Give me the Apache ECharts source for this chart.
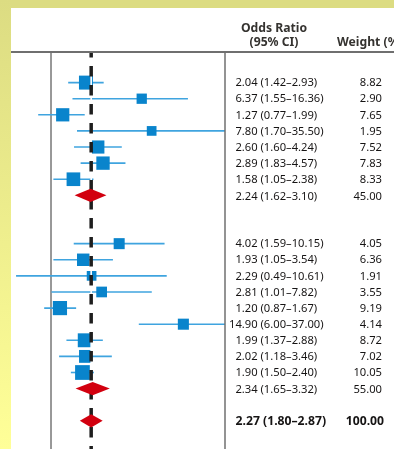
<!DOCTYPE html>
<html><head><meta charset="utf-8">
<script src="https://cdn.jsdelivr.net/npm/echarts@6/dist/echarts.min.js"></script>
<style>html,body{margin:0;padding:0;background:#fff}#c{width:394px;height:449px}</style>
</head><body><div id="c"></div>
<script>
// ---- data ----
const group1OR = [2.04, 6.37, 1.27, 7.80, 2.60, 2.89, 1.58];
const group1Lo = [1.42, 1.55, 0.77, 1.70, 1.60, 1.83, 1.05];
const group1Hi = [2.93, 16.36, 1.99, 35.50, 4.24, 4.57, 2.38];
const group1W  = [8.82, 2.90, 7.65, 1.95, 7.52, 7.83, 8.33];
const subtotal1 = {or: 2.24, lo: 1.62, hi: 3.10, w: 45.00};

const group2OR = [4.02, 1.93, 2.29, 2.81, 1.20, 14.90, 1.99, 2.02, 1.90];
const group2Lo = [1.59, 1.05, 0.49, 1.01, 0.87, 6.00, 1.37, 1.18, 1.50];
const group2Hi = [10.15, 3.54, 10.61, 7.82, 1.67, 37.00, 2.88, 3.46, 2.40];
const group2W  = [4.05, 6.36, 1.91, 3.55, 9.19, 4.14, 8.72, 7.02, 10.05];
const subtotal2 = {or: 2.34, lo: 1.65, hi: 3.32, w: 55.00};

const overall = {or: 2.27, lo: 1.80, hi: 2.87, w: 100.00};

const headerOR = ['Odds Ratio', '(95% CI)'];
const headerW = 'Weight (%)';

// ---- build rows (row order = vertical position) ----
const rows = [];
function addGroup(or, lo, hi, w) {
  or.forEach((v, i) => rows.push({type: 'study', or: v, lo: lo[i], hi: hi[i], w: w[i]}));
}
addGroup(group1OR, group1Lo, group1Hi, group1W);
rows.push(Object.assign({type: 'sub'}, subtotal1));
rows.push(null, null);
addGroup(group2OR, group2Lo, group2Hi, group2W);
rows.push(Object.assign({type: 'sub'}, subtotal2));
rows.push(null);
rows.push(Object.assign({type: 'overall'}, overall));

const squareData = [], ciData = [], diamondData = [], textRows = [], textData = [];
rows.forEach((r, i) => {
  if (!r) return;
  if (r.type === 'study') {
    squareData.push([r.or, i, r.w]);
    ciData.push([r.lo, i, r.hi]);
  } else {
    diamondData.push([r.or, i, r.lo, r.hi]);
  }
  textRows.push(r);
  textData.push([r.or, i]);
});

const FONT = '"Noto Sans", "Liberation Sans", sans-serif';
const TXT = '#161414';
const fmt = v => v.toFixed(2);

function vLine(params, api, style) {
  const cs = params.coordSys;
  const x = api.coord([api.value(0), 1])[0];
  return {type: 'line', shape: {x1: x, y1: cs.y, x2: x, y2: cs.y + cs.height}, style: style};
}

const chart = echarts.init(document.getElementById('c'), null, {renderer: 'canvas'});
chart.setOption({
  animation: false,
  backgroundColor: '#ffffff',
  grid: {left: 11, right: 169, top: 52, bottom: 0, containLabel: false},
  xAxis: {type: 'log', min: 0.442, max: 34.85, show: false},
  yAxis: {type: 'value', inverse: true, min: -1.9, max: 22.75, show: false},
  graphic: [
    {type: 'rect', shape: {x: 0, y: 0, width: 394, height: 8}, style: {fill: '#dcdc82'}, z: 100},
    {type: 'rect', shape: {x: 0, y: 0, width: 11, height: 449},
      style: {fill: new echarts.graphic.LinearGradient(0, 0, 0, 1, [
        {offset: 0, color: '#dcdc82'}, {offset: 1, color: '#ffff98'}])}, z: 100},
    {type: 'line', shape: {x1: 11, y1: 52, x2: 394, y2: 52}, style: {stroke: '#6f6f6f', lineWidth: 2}, z: 50},
    {type: 'line', shape: {x1: 225, y1: 52, x2: 225, y2: 449}, style: {stroke: '#6f6f6f', lineWidth: 1.5}, z: 50},
    {type: 'text', style: {text: headerOR[0], x: 274, y: 29, align: 'center', verticalAlign: 'middle',
      font: 'bold 12.2px ' + FONT, fill: '#353330'}},
    {type: 'text', style: {text: headerOR[1], x: 274, y: 42.5, align: 'center', verticalAlign: 'middle',
      font: 'bold 12.2px ' + FONT, fill: '#353330'}},
    {type: 'text', style: {text: headerW, x: 337, y: 42.5, align: 'left', verticalAlign: 'middle',
      font: 'bold 12.2px ' + FONT, fill: '#353330'}}
  ],
  series: [
    { // reference line at OR = 1
      type: 'custom', z: 1, silent: true, clip: false,
      data: [[1]],
      renderItem: (params, api) => vLine(params, api, {stroke: '#777777', lineWidth: 1.5})
    },
    { // confidence intervals
      type: 'custom', z: 2, silent: true, clip: false,
      data: ciData,
      renderItem: (params, api) => {
        const cs = params.coordSys;
        const p1 = api.coord([api.value(0), api.value(1)]);
        const p2 = api.coord([api.value(2), api.value(1)]);
        const x1 = Math.max(cs.x, p1[0]), x2 = Math.min(cs.x + cs.width, p2[0]);
        return {type: 'line', shape: {x1: x1, y1: p1[1], x2: x2, y2: p2[1]},
          style: {stroke: '#3fa4df', lineWidth: 1.6}};
      }
    },
    { // study squares
      type: 'scatter', z: 3, silent: true,
      symbol: 'rect',
      symbolSize: v => 8.5 + 0.62 * v[2],
      itemStyle: {color: '#0984cc', opacity: 1},
      data: squareData
    },
    { // pooled line: white core
      type: 'custom', z: 4, silent: true, clip: false,
      data: [[overall.or]],
      renderItem: (params, api) => vLine(params, api, {stroke: '#ffffff', lineWidth: 1.6})
    },
    { // pooled line: black dashes
      type: 'custom', z: 5, silent: true, clip: false,
      data: [[overall.or]],
      renderItem: (params, api) => vLine(params, api, {stroke: '#1e1e1e', lineWidth: 3.5,
        lineDash: [10.5, 8.5], lineDashOffset: 5})
    },
    { // diamonds
      type: 'custom', z: 6, silent: true, clip: false,
      data: diamondData,
      renderItem: (params, api) => {
        const c = api.coord([api.value(0), api.value(1)]);
        const l = api.coord([api.value(2), api.value(1)]);
        const r = api.coord([api.value(3), api.value(1)]);
        const h = api.size([0, 0.82])[1] / 2;
        return {type: 'polygon', shape: {points: [[l[0], c[1]], [c[0], c[1] - h], [r[0], c[1]], [c[0], c[1] + h]]},
          style: {fill: '#d2000f'}};
      }
    },
    { // text columns
      type: 'custom', z: 7, silent: true, clip: false,
      data: textData,
      renderItem: (params, api) => {
        const r = textRows[params.dataIndex];
        const cs = params.coordSys;
        const y = api.coord([1, api.value(1)])[1] + (r.type === 'study' ? 0.5 : 1);
        const bold = r.type === 'overall';
        const font = (bold ? 'bold 12.2px ' : '11.2px ') + FONT;
        const full = fmt(r.or) + ' (' + fmt(r.lo) + '\u2013' + fmt(r.hi) + ')';
        const intPart = String(Math.floor(r.or));
        const rest = full.slice(intPart.length);
        const xd = cs.x + cs.width + (bold ? 17.5 : 16.8);
        return {type: 'group', children: [
          {type: 'text', style: {text: intPart, x: xd, y: y, align: 'right', verticalAlign: 'middle', font: font, fill: TXT}},
          {type: 'text', style: {text: rest, x: xd, y: y, align: 'left', verticalAlign: 'middle', font: font, fill: TXT}},
          {type: 'text', style: {text: fmt(r.w), x: bold ? 384 : 382, y: y, align: 'right', verticalAlign: 'middle', font: font, fill: TXT}}
        ]};
      }
    }
  ]
});
</script>
</body></html>
